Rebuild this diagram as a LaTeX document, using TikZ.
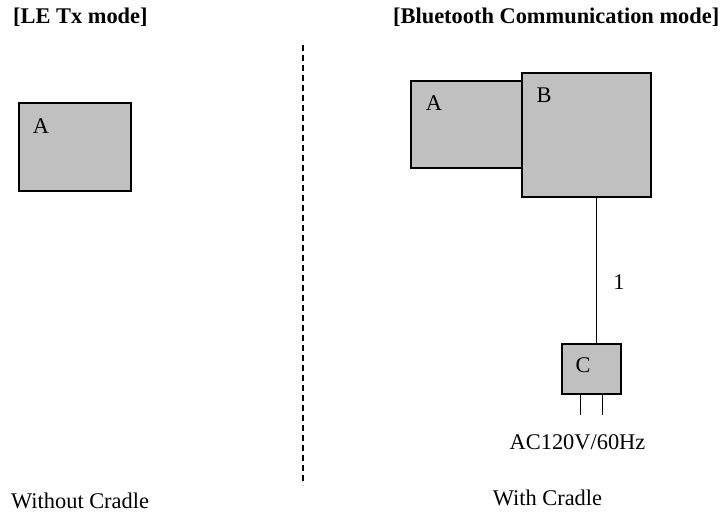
\documentclass[tikz,border=0pt]{standalone}
\usepackage{fontspec}
\setmainfont{Liberation Serif}
\usetikzlibrary{positioning}
\definecolor{boxgray}{HTML}{C0C0C0}
\tikzstyle{unit} = [draw=black, fill=boxgray, line width=1.2pt,
    rectangle, inner sep=0pt]
\tikzstyle{tag} = [inner sep=0pt, font=\fontsize{22.4}{26}\selectfont]
\tikzstyle{head} = [tag, anchor=west, font=\fontsize{22.4}{26}\selectfont\bfseries]
\tikzstyle{wire} = [draw=black, line width=1pt]

\begin{document}
\begin{tikzpicture}[x=1pt, y=-1pt]
\useasboundingbox (0,0) rectangle (725,513);

\node[head] (h1) at (13,17) {[LE Tx mode]};
\node[head] (h2) at (393,17) {[Bluetooth Communication mode]};

% left side
\node[unit, minimum width=112pt, minimum height=88pt] (A1) at (75,147) {};
\node[tag] (lA1) at (41,126) {A};

% divider
\coordinate (d1) at (303,45);
\coordinate (d2) at (303,485);
\draw[line width=2.8pt, dash pattern=on 6pt off 4pt] (d1) -- (d2);

% right side
\node[unit, minimum width=111pt, minimum height=87pt] (A2) at (466.5,124.5) {};
\node[unit, minimum width=129pt, minimum height=124pt] (B) at (586.5,135) {};
\node[tag] (lA2) at (434,103) {A};
\node[tag] (lB) at (544,95) {B};

\node[unit, minimum width=59pt, minimum height=50pt] (C) at (591.5,369) {};
\node[tag] (lC) at (583,365) {C};

\draw[wire] ([xshift=4.5pt]C.north) -- ([xshift=4.5pt]C.north |- B.south);
\node[tag] (n1) at (619,282) {1};

\coordinate (p1) at ([xshift=-11.5pt]C.south);
\coordinate (p2) at ([xshift=10.5pt]C.south);
\draw[wire] (p1) -- ++(0,20);
\draw[wire] (p2) -- ++(0,20);

\node[tag] (ac) at (577.5,442) {AC120V/60Hz};

\node[tag, anchor=west] (wo) at (11,501) {Without Cradle};
\node[tag] (wi) at (547.5,498) {With Cradle};

\end{tikzpicture}
\end{document}
